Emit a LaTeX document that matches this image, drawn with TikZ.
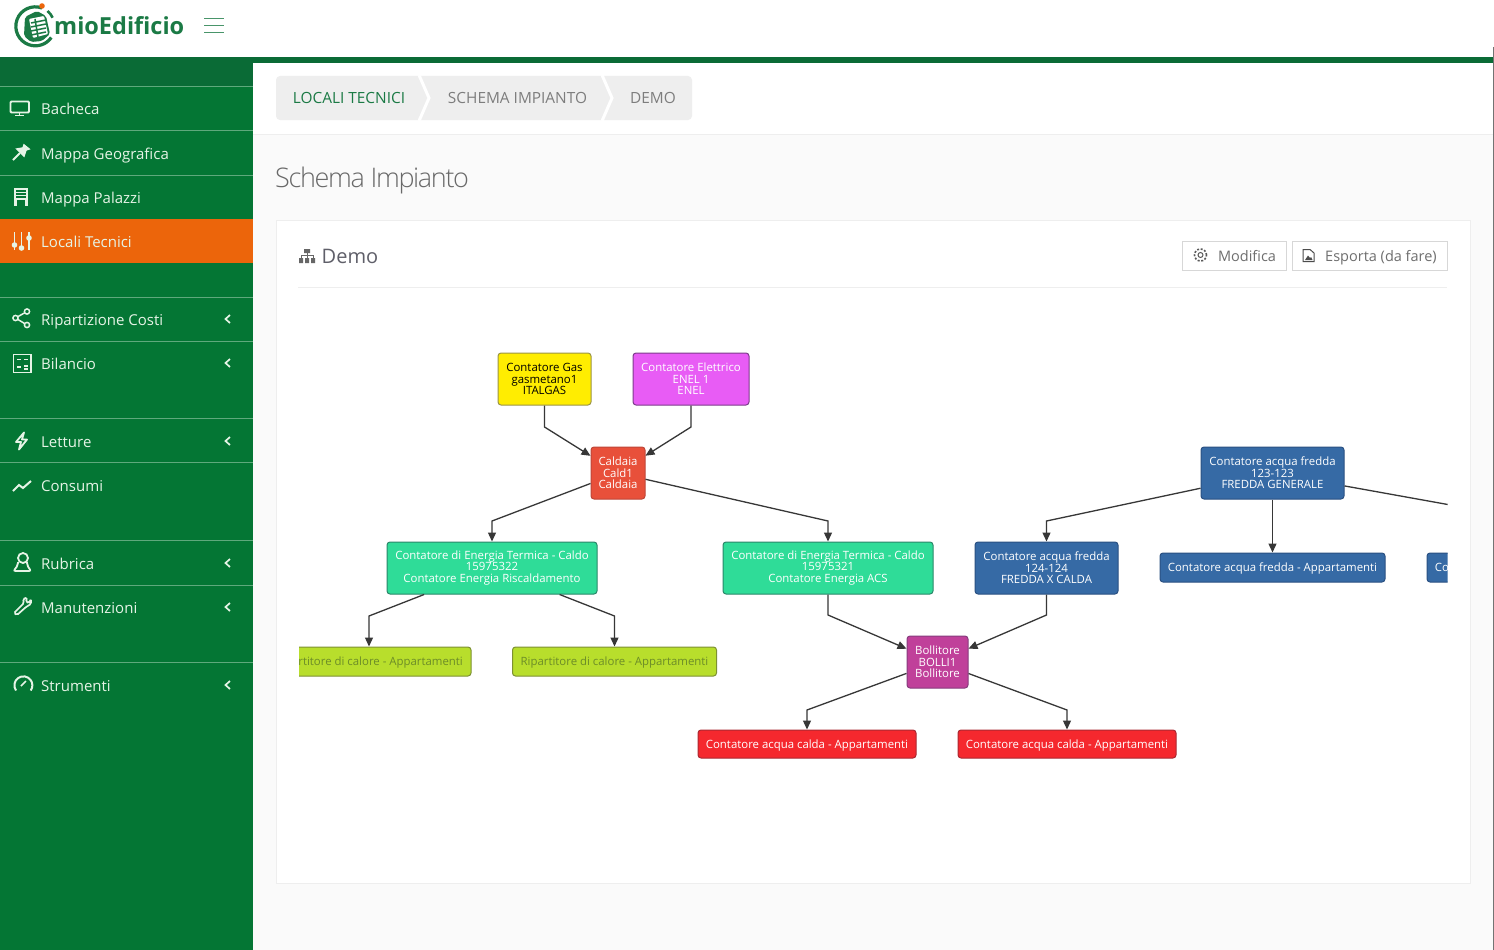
\documentclass[tikz,border=0pt]{standalone}
\usepackage{fontspec}
\setmainfont{Open Sans}
\newfontfamily\lightfont[LetterSpace=-5]{Open Sans Light}
\usetikzlibrary{arrows.meta}
\definecolor{sidegreen}{HTML}{047634}
\definecolor{bargreen}{HTML}{0A6B36}
\definecolor{sideline}{HTML}{5FA97C}
\definecolor{sidetext}{HTML}{E6F4E6}
\definecolor{activeorange}{HTML}{EC650B}
\definecolor{pagegrey}{HTML}{FAFAFA}
\definecolor{softgrey}{HTML}{EEEEEE}
\definecolor{logogreen}{HTML}{1B7A45}
\tikzset{
    box/.style={draw, rounded corners=3pt, line width=1pt, inner sep=0pt, align=center, text=white,
        font=\fontsize{11.4}{11.5}\selectfont},
    flat/.style={text height=10pt, text depth=1.5pt},
    gasbox/.style={box, fill=yellow!95!orange, draw=yellow!55!black, text=black, minimum width=93pt, minimum height=52pt},
    elecbox/.style={box, fill={rgb,255:red,232;green,92;blue,245}, draw={rgb,255:red,125;green,60;blue,140}, minimum width=116pt, minimum height=52pt},
    boilerbox/.style={box, fill={rgb,255:red,232;green,80;blue,58}, draw={rgb,255:red,190;green,70;blue,55}, minimum width=54pt, minimum height=52pt},
    energybox/.style={box, fill={rgb,255:red,47;green,220;blue,152}, draw={rgb,255:red,42;green,135;blue,105}, minimum width=210pt, minimum height=52pt},
    heatbox/.style={box, flat, fill={rgb,255:red,184;green,222;blue,44}, draw={rgb,255:red,125;green,145;blue,50}, text={rgb,255:red,108;green,140;blue,40}, minimum width=204pt, minimum height=29pt},
    coldbox/.style={box, fill={rgb,255:red,54;green,106;blue,165}, draw={rgb,255:red,42;green,80;blue,130}, minimum height=52pt, minimum width=143pt},
    coldflat/.style={coldbox, flat, minimum width=225pt, minimum height=29pt},
    tankbox/.style={box, fill={rgb,255:red,192;green,64;blue,154}, draw={rgb,255:red,135;green,60;blue,125}, minimum width=61pt, minimum height=52pt},
    hotbox/.style={box, flat, fill={rgb,255:red,245;green,40;blue,46}, draw={rgb,255:red,170;green,40;blue,50}, minimum width=218pt, minimum height=28pt},
    link/.style={draw={rgb,255:red,55;green,55;blue,55}, line width=1.3pt, -{Triangle[length=9pt,width=8pt]}},
    menutext/.style={anchor=base west, inner sep=0pt, text=sidetext, font=\fontsize{15}{18}\selectfont},
    icon/.style={draw=sidetext, line width=1.5pt},
    crumb/.style={anchor=base, inner sep=0pt, text={rgb,255:red,125;green,125;blue,125}, font=\fontsize{15.4}{18}\selectfont},
    btn/.style={draw={rgb,255:red,215;green,215;blue,215}, fill=white, line width=1pt},
    btntext/.style={anchor=base, inner sep=0pt, text={rgb,255:red,110;green,110;blue,110}, font=\fontsize{14.5}{18}\selectfont}
}
\begin{document}
\begin{tikzpicture}[x=1pt,y=-1pt]
    \useasboundingbox (0,0) rectangle (1494,950);
    \fill[pagegrey] (0,0) rectangle (1494,950);
    \fill[white] (0,0) rectangle (1494,57);
    \fill[white] (253,63) rectangle (1494,134);
    \draw[softgrey] (253,134.5) -- (1494,134.5);
    \fill[sidegreen] (0,63) rectangle (253,950);
    \fill[bargreen] (0,57) rectangle (1494,63);
    \fill[bargreen] (0,63) rectangle (253,86);

    \draw[logogreen, line width=3.2pt] (42,8) arc[start angle=70, end angle=325, radius=19.5pt];
    \draw[logogreen, line width=2.6pt] (47.5,11) arc[start angle=50, end angle=25, radius=19.5pt];
    \fill[activeorange] (42,6) circle (2.8pt);
    \fill[logogreen, rounded corners=2pt] (25,17) -- (37,11) -- (46,16) -- (50,34) -- (42,41) -- (31,42) -- (24,36) -- cycle;
    \fill[white, rounded corners=1pt] (29,19) -- (44,16) -- (48,34) -- (33,38) -- cycle;
    \foreach \y in {22,26,30,34} \draw[logogreen, line width=1.5pt] (31,\y+1) -- (46,\y-2);
    \draw[logogreen, line width=1.5pt] (35,19) -- (38,37);
    \node[anchor=base west, inner sep=0pt, text=logogreen, font=\fontsize{23.5}{26}\bfseries\selectfont] (logo) at (54,35) {mioEdificio};
    \foreach \y in {18,25,32} \draw[logogreen!80, line width=.8pt] (204,\y) -- (224,\y);
    \draw[black!55, line width=.8pt] (1493.5,47) -- (1493.5,950);

    \foreach \y in {86,130,175,219,297,341,418,462,540,585,662}
        \draw[sideline, line width=1pt] (0,\y) -- (253,\y);
    \fill[activeorange] (0,219) rectangle (253,263);
    \foreach \y/\name/\label in {108/bacheca/Bacheca, 153/geo/Mappa Geografica, 197/palazzi/Mappa Palazzi, 241/locali/Locali Tecnici,
        319/costi/Ripartizione Costi, 363/bilancio/Bilancio, 441/letture/Letture, 485/consumi/Consumi, 563/rubrica/Rubrica,
        607/manut/Manutenzioni, 685/strumenti/Strumenti}
        \node[menutext, yshift=-6pt] (\name) at (41,\y) {\label};
    \foreach \y in {319,363,441,563,607,685}
        \draw[sidetext, line width=1.7pt] (230,\y-4) -- (225.5,\y) -- (230,\y+4);

    \draw[icon, rounded corners=1pt, line width=1.8pt] (10.5,101.5) rectangle (29,112.5);
    \draw[icon] (19.5,112.5) -- (19.5,115.5) (15,115.5) -- (24,115.5);
    \draw[icon, line width=1.8pt] (13,160) -- (20,153);
    \draw[icon, fill=sidetext] (17,149) -- (24,156) -- (26,150) -- (29,149) -- (24,145) -- (23,148) -- cycle;
    \fill[sidetext] (13.5,188) rectangle (28,206);
    \foreach \y in {191,194,197} \draw[sidegreen, line width=1.2pt] (16,\y) -- (26,\y);
    \fill[sidegreen] (16.5,200) rectangle (25,206);
    \foreach \x/\d in {14.5/245, 21.5/248, 29/238} {
        \draw[sidetext, line width=1.5pt] (\x,232) -- (\x,250);
        \fill[sidetext] (\x,\d) circle (2.8pt);
    }
    \draw[icon] (15.5,318) -- (27,311.5) (15.5,318) -- (27,325);
    \draw[icon, fill=sidegreen] (15.5,318) circle (2.6pt) (27,311.5) circle (2.6pt) (27,325) circle (2.6pt);
    \draw[icon, line width=1.8pt] (13.5,354.5) rectangle (31,372.5);
    \draw[sidetext, line width=1.6pt] (17,359.5) -- (20.5,359.5) (24,359.5) -- (28,359.5) (17,367) -- (20.5,367) (24,366) -- (28,366) (24,369) -- (28,369);
    \draw[icon, line join=round, line width=1.8pt] (24,432.5) -- (16,442) -- (21,442) -- (19,449.5) -- (27,439.5) -- (22,439.5) -- cycle;
    \draw[icon, line width=2pt] (13,491) -- (19,485) -- (23,488) -- (31,481);
    \draw[icon, line width=1.8pt] (23,558) circle (5pt);
    \draw[icon, line width=1.8pt, rounded corners=2pt] (18,562) -- (18,565) -- (13.5,571) -- (31,571) -- (27,565) -- (27,562);
    \draw[icon, line width=1.7pt, rounded corners=1.5pt] (14,613) -- (24,603) -- (23,599) -- (27,597.5) -- (26,602) -- (29,603) -- (31,599) -- (31,604) -- (26,607) -- (17,615) -- cycle;
    \draw[icon, line width=2pt] (16,690.5) arc[start angle=215, end angle=-35, radius=9pt];
    \draw[icon] (21,686) -- (26,681);

    \fill[softgrey, rounded corners=4pt] (276,76) rectangle (692,120);
    \draw[white, line width=3pt] (419,75) -- (429,98) -- (419,121);
    \draw[white, line width=3pt] (602,75) -- (612,98) -- (602,121);
    \node[crumb, text=logogreen] (crumbA) at (349,103) {LOCALI TECNICI};
    \node[crumb] (crumbB) at (517.5,103) {SCHEMA IMPIANTO};
    \node[crumb] (crumbC) at (653,103) {DEMO};
    \node[anchor=base west, inner sep=0pt, text={rgb,255:red,105;green,105;blue,105}, font=\lightfont\fontsize{27}{30}\selectfont] (title) at (275,187) {Schema Impianto};

    \draw[softgrey, fill=white, line width=1pt] (276,220) rectangle (1470,883);
    \draw[softgrey] (298,287) -- (1447,287);
    \fill[black!60] (304,249) rectangle (310,253) (299,258) rectangle (303,263) (305,258) rectangle (309,263) (311,258) rectangle (315,263);
    \draw[black!60] (301,258) -- (301,255.5) -- (313,255.5) -- (313,258) (307,253) -- (307,258);
    \node[anchor=base west, inner sep=0pt, text={rgb,255:red,95;green,95;blue,105}, font=\fontsize{20}{24}\selectfont] (demo) at (321.5,263) {Demo};

    \draw[btn] (1182,241) rectangle (1286,270);
    \draw[btn] (1292,241) rectangle (1447,270);
    \node[btntext] (modifica) at (1247,261) {Modifica};
    \node[btntext] (esporta) at (1381,261) {Esporta (da fare)};
    \draw[black!65, line width=1pt] (1200.5,255) circle (2.5pt);
    \draw[black!65, line width=1.6pt, dash pattern=on 2pt off 1.6pt] (1200.5,255) circle (6pt);
    \draw[black!70, line width=1pt] (1303,249.5) -- (1310,249.5) -- (1314,253) -- (1314,261.5) -- (1303,261.5) -- cycle;
    \fill[black!70] (1305,260) -- (1308,255.5) -- (1310,258) -- (1311,257) -- (1312.5,260) -- cycle;

    \begin{scope}
        \clip (299,290) rectangle (1447.5,800);
        \node[gasbox] (gas) at (544.5,379) {Contatore Gas\\gasmetano1\\ITALGAS};
        \node[elecbox] (elec) at (691,379) {Contatore Elettrico\\ENEL 1\\ENEL};
        \node[boilerbox] (caldaia) at (618,473) {Caldaia\\Cald1\\Caldaia};
        \node[energybox] (risc) at (492,568) {Contatore di Energia Termica - Caldo\\15975322\\Contatore Energia Riscaldamento};
        \node[energybox] (acs) at (828,568) {Contatore di Energia Termica - Caldo\\15975321\\Contatore Energia ACS};
        \node[heatbox] (ripA) at (369,661.5) {Ripartitore di calore - Appartamenti};
        \node[heatbox] (ripB) at (614.5,661.5) {Ripartitore di calore - Appartamenti};
        \node[tankbox] (bolli) at (937.5,662) {Bollitore\\BOLLI1\\Bollitore};
        \node[hotbox] (hotA) at (807,744) {Contatore acqua calda - Appartamenti};
        \node[hotbox] (hotB) at (1067,744) {Contatore acqua calda - Appartamenti};
        \node[coldbox] (fredda) at (1272.5,473) {Contatore acqua fredda\\123-123\\FREDDA GENERALE};
        \node[coldbox] (frecal) at (1046.5,568) {Contatore acqua fredda\\124-124\\FREDDA X CALDA};
        \node[coldflat] (appA) at (1272.5,567.5) {Contatore acqua fredda - Appartamenti};
        \node[coldflat] (appB) at (1539.5,567.5) {Contatore acqua fredda - Appartamenti};

        \coordinate (gasB) at (544.5,427);
        \coordinate (elecB) at (691,427);
        \coordinate (riscB) at (492,521);
        \coordinate (acsB) at (828,521);
        \coordinate (ripAB) at (369,616);
        \coordinate (ripBB) at (614.5,616);
        \coordinate (acsOut) at (828,615);
        \coordinate (frecalOut) at (1046.5,615);
        \coordinate (hotAB) at (807,710);
        \coordinate (hotBB) at (1067,710);
        \coordinate (frecalB) at (1046.5,521);
        \coordinate (appBB) at (1539.5,521);

        \draw[link] (gas) -- (gasB) -- (caldaia);
        \draw[link] (elec) -- (elecB) -- (caldaia);
        \draw[link] (caldaia) -- (riscB) -- (risc);
        \draw[link] (caldaia) -- (acsB) -- (acs);
        \draw[link] (risc) -- (ripAB) -- (ripA);
        \draw[link] (risc) -- (ripBB) -- (ripB);
        \draw[link] (acs) -- (acsOut) -- (bolli);
        \draw[link] (frecal) -- (frecalOut) -- (bolli);
        \draw[link] (bolli) -- (hotAB) -- (hotA);
        \draw[link] (bolli) -- (hotBB) -- (hotB);
        \draw[link] (fredda) -- (frecalB) -- (frecal);
        \draw[link] (fredda) -- (appA);
        \draw[link] (fredda) -- (appBB) -- (appB);
    \end{scope}
\end{tikzpicture}
\end{document}
